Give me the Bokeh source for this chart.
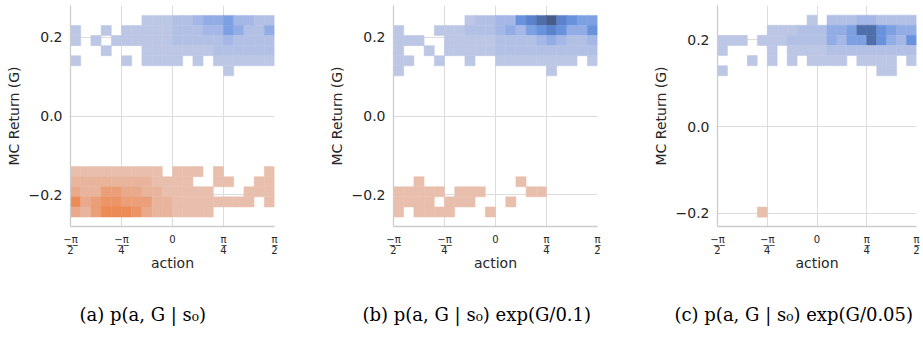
import numpy as np
from bokeh.plotting import figure
from bokeh.layouts import row
from bokeh.models import ColumnDataSource, FixedTicker, Range1d, Title, CustomJSTickFormatter
from bokeh.embed import file_html
from bokeh.resources import INLINE

# ---------------- data ----------------
N_XBINS = 20
X_LO, X_HI = -np.pi / 2, np.pi / 2

# Each grid: rows from top bin (j=19) to bottom bin (j=0), 20 columns (action bins).
# '.' = empty, '1'..'9' = intensity of the high-return (blue) group,
# 'a'..'f' = intensity of the low-return (orange) group.
GRID_A = [
    ".......1112234453322",
    "1..1.111112223354224",
    "1.1.1111112222232222",
    "...1...1111111222222",
    "1....1.1111.1.111111",
    "...............1....",
    "....................",
    "....................",
    "....................",
    "....................",
    "....................",
    "....................",
    "....................",
    "....................",
    "....................",
    "aaaaaaaaa.aaa.a....a",
    "bbbbbbbbaaaa..aa..aa",
    "cbbddccbbaaaaa...aaa",
    "fcdeedddbbaaaaaaaa.a",
    "cbdfffecbbaaaa......",
]
GRID_B = [
    ".......1223367897655",
    "1...1112223435676446",
    "111..111112222343223",
    "1..1.111112222222222",
    "11..1..1..11111111.1",
    "1..............1....",
    "....................",
    "....................",
    "....................",
    "....................",
    "....................",
    "....................",
    "....................",
    "....................",
    "....................",
    "....................",
    "..a.........a.......",
    "aaaaa.aaa....aa.....",
    "aaaa.aaa...a........",
    "a.aaaa...a..........",
]
GRID_C = [
    ".........1.222332222",
    ".....111222445886544",
    "111.1112222435586436",
    "1....1.1111222222222",
    "...1.1.1.1111.1111.1",
    "1...............11..",
    "....................",
    "....................",
    "....................",
    "....................",
    "....................",
    "....................",
    "....................",
    "....................",
    "....................",
    "....................",
    "....................",
    "....................",
    "....................",
    "....a...............",
]
# return (G) bin extents for each panel
YBINS_A = (-0.256, 0.256)
YBINS_B = (-0.256, 0.256)
YBINS_C = (-0.2085, 0.256)

X_TICKS = [-np.pi / 2, -np.pi / 4, 0.0, np.pi / 4, np.pi / 2]
X_TICK_LABELS = ["\u2212\u0332\u03c0\u0332\n2", "\u2212\u0332\u03c0\u0332\n4", "0", "\u03c0\u0332\n4", "\u03c0\u0332\n2"]
Y_TICKS = [-0.2, 0.0, 0.2]
Y_TICK_LABELS = ["\u22120.2", "0.0", "0.2"]

CAPTIONS = [
    "(a) p(a, G | s\u2080)",
    "(b) p(a, G | s\u2080) exp(G/0.1)",
    "(c) p(a, G | s\u2080) exp(G/0.05)",
]

# ---------------- style ----------------
BLUE = ["#bcc6e5", "#b2c0e6", "#a4b7e6", "#92ace5", "#7da0e2", "#6892dc", "#5a82cd", "#506eaa", "#485c8a"]
ORANGE = ["#e8bfad", "#e9b49c", "#eaa98a", "#eb9f78", "#ec9466", "#ec8b56"]
TXT = "#262626"

FMT_CODE = """
let best = 0;
for (let i = 0; i < vals.length; i++) {
  if (Math.abs(vals[i] - tick) < Math.abs(vals[best] - tick)) best = i;
}
return labs[best];
"""


def cells(grid, ybins):
    nrows = len(grid)
    xe = np.linspace(X_LO, X_HI, N_XBINS + 1)
    ye = np.linspace(ybins[0], ybins[1], nrows + 1)
    d = dict(left=[], right=[], bottom=[], top=[], color=[])
    for r, line in enumerate(grid):
        j = nrows - 1 - r
        for i, ch in enumerate(line):
            if ch == ".":
                continue
            c = BLUE[int(ch) - 1] if ch.isdigit() else ORANGE[ord(ch) - ord("a")]
            d["left"].append(xe[i]); d["right"].append(xe[i + 1])
            d["bottom"].append(ye[j]); d["top"].append(ye[j + 1])
            d["color"].append(c)
    return ColumnDataSource(d)


def panel(grid, ybins, yrange, caption, cap_offset, frame_w, bl, br):
    p = figure(frame_width=frame_w, frame_height=221, output_backend="svg", toolbar_location=None,
               x_range=Range1d(X_LO, X_HI), y_range=Range1d(*yrange),
               min_border_left=bl, min_border_right=br, min_border_top=5, min_border_bottom=0)
    p.background_fill_color = "white"
    p.border_fill_color = "white"
    p.outline_line_color = None
    p.quad(left="left", right="right", bottom="bottom", top="top", source=cells(grid, ybins),
           fill_color="color", line_color="color", line_width=0.5)

    p.xaxis.ticker = FixedTicker(ticks=X_TICKS)
    p.yaxis.ticker = FixedTicker(ticks=Y_TICKS)
    p.xaxis.formatter = CustomJSTickFormatter(args=dict(vals=X_TICKS, labs=X_TICK_LABELS), code=FMT_CODE)
    p.yaxis.formatter = CustomJSTickFormatter(args=dict(vals=Y_TICKS, labs=Y_TICK_LABELS), code=FMT_CODE)
    for ax in (p.xaxis, p.yaxis):
        ax.axis_line_color = "#cccccc"
        ax.axis_line_width = 1.3
        ax.major_tick_line_color = None
        ax.minor_tick_line_color = None
        ax.major_tick_out = 0
        ax.major_tick_in = 0
        ax.major_label_text_font = "DejaVu Sans"
        ax.major_label_text_color = TXT
        ax.axis_label_text_font = "DejaVu Sans"
        ax.axis_label_text_font_size = "14px"
        ax.axis_label_text_font_style = "normal"
        ax.axis_label_text_color = TXT
    p.yaxis.major_label_text_font_size = "14px"
    p.xaxis.major_label_text_font_size = "10px"
    p.xaxis.major_label_text_line_height = 1.0
    p.yaxis.major_label_standoff = 8
    p.xaxis.major_label_standoff = 7
    p.yaxis.axis_label_standoff = 4
    p.xaxis.axis_label_standoff = -4
    p.xaxis.axis_label = "action"
    p.yaxis.axis_label = "MC Return (G)"
    p.xgrid.grid_line_color = "#dcdcdc"
    p.ygrid.grid_line_color = "#dcdcdc"
    p.xgrid.grid_line_width = 1
    p.ygrid.grid_line_width = 1

    cap = Title(text=caption, align="left", offset=cap_offset, standoff=57,
                text_font="DejaVu Serif", text_font_size="18px", text_font_style="normal",
                text_color="black")
    p.add_layout(cap, "below")
    return p


p1 = panel(GRID_A, YBINS_A, (-0.2801, 0.2811), CAPTIONS[0], 9, 204, 70, 49)
p2 = panel(GRID_B, YBINS_B, (-0.2801, 0.2811), CAPTIONS[1], -31, 204, 70, 50)
p3 = panel(GRID_C, YBINS_C, (-0.2299, 0.2782), CAPTIONS[2], -43, 199, 70, 6)

layout = row(p1, p2, p3)
open("out.html", "w").write(file_html(layout, INLINE))
